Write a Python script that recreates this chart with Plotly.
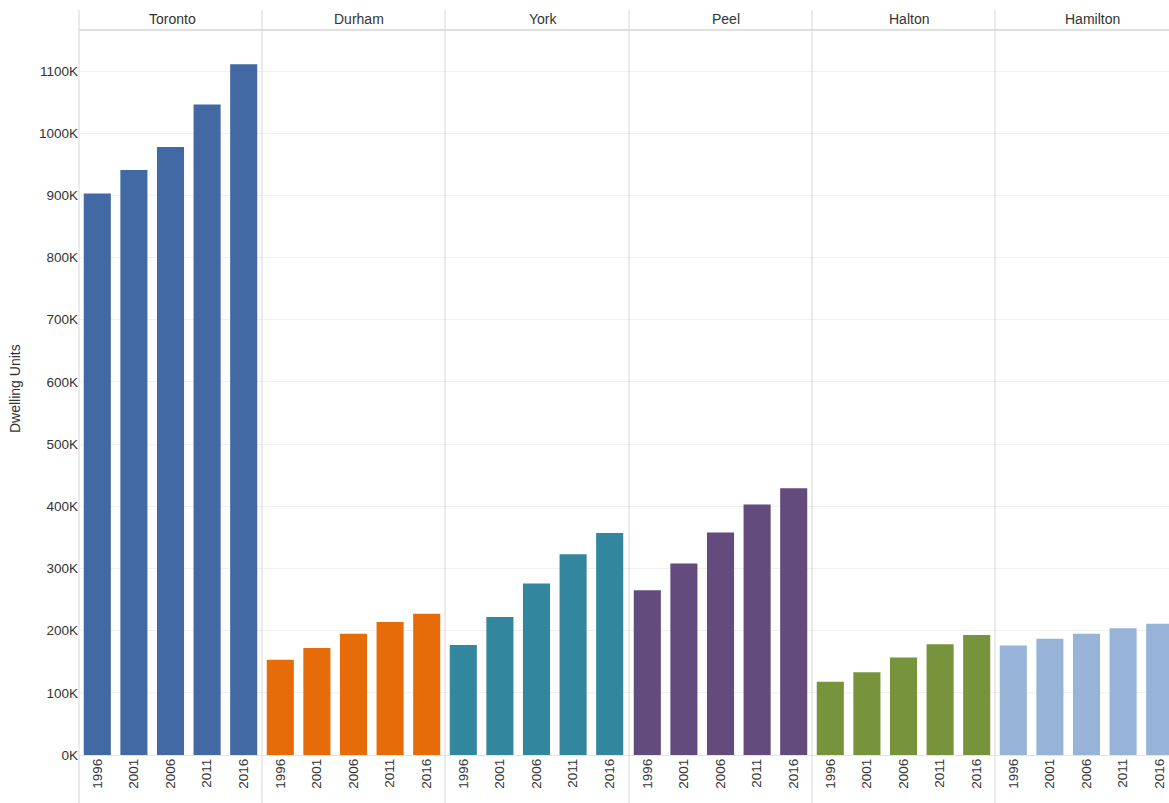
import plotly.graph_objects as go
from plotly.subplots import make_subplots

regions = ["Toronto", "Durham", "York", "Peel", "Halton", "Hamilton"]
years = ["1996", "2001", "2006", "2011", "2016"]

toronto = [903000, 941000, 978000, 1046000, 1111000]
durham = [153000, 172000, 195000, 214000, 227000]
york = [177000, 222000, 276000, 323000, 357000]
peel = [265000, 308000, 358000, 403000, 429000]
halton = [118000, 133000, 157000, 178000, 193000]
hamilton = [176000, 187000, 195000, 204000, 211000]

series = [toronto, durham, york, peel, halton, hamilton]
colors = ["#4269a4", "#e66c0a", "#32869e", "#634b7d", "#77933c", "#97b4d8"]

W, H = 1169, 803
L, T, B = 79, 30, 48
plot_w = W - L
plot_h = H - T - B
bounds_px = [79, 262, 445, 629, 812, 995, 1169]  # screen pixels
title_px = [172, 359, 543, 726, 909, 1092]       # title centres (screen pixels)
slot = 183 / 5.0
y_base = 755  # screen pixel of the x axis


def px_x(p):
    return (p - L) / plot_w


def px_y(p):
    return (y_base - p) / plot_h


FONT = "Arial, Liberation Sans, sans-serif"
TXT = "#333333"

fig = make_subplots(rows=1, cols=6, shared_yaxes=True, horizontal_spacing=0)

for i, (name, vals) in enumerate(zip(regions, series)):
    fig.add_trace(
        go.Bar(x=years, y=vals, name=name, marker=dict(color=colors[i], line=dict(width=0)),
               showlegend=False),
        row=1, col=i + 1,
    )

shapes = []
annotations = []
for i in range(6):
    x0 = px_x(bounds_px[i])
    x1 = min(px_x(bounds_px[i + 1]), 1.0)
    axname = "xaxis" if i == 0 else f"xaxis{i + 1}"
    width_px = (x1 - x0) * plot_w
    rng = [-0.5, -0.5 + width_px / slot]
    fig.layout[axname].update(
        domain=[x0, x1], range=rng, type="category", tickangle=-90,
        showgrid=False, zeroline=False, showline=False, ticks="",
        tickfont=dict(family=FONT, size=13.5, color=TXT), fixedrange=True,
    )
    shapes.append(dict(type="line", xref="paper", yref="paper", x0=x0, x1=x0,
                       y0=px_y(10), y1=px_y(803),
                       line=dict(color="#d6d6d6", width=1)))
    annotations.append(dict(text=regions[i], xref="paper", yref="paper",
                            x=px_x(title_px[i]), y=px_y(19),
                            showarrow=False, xanchor="center", yanchor="middle",
                            font=dict(family=FONT, size=14, color=TXT)))

# header separator line
shapes.append(dict(type="line", xref="paper", yref="paper", x0=0, x1=1, y0=1, y1=1,
                   line=dict(color="#d6d6d6", width=1.5)))

annotations.append(dict(text="Dwelling Units", xref="paper", yref="paper",
                        x=px_x(15), y=px_y(389), textangle=-90,
                        showarrow=False, xanchor="center", yanchor="middle",
                        font=dict(family=FONT, size=14, color=TXT)))

tickvals = list(range(0, 1100001, 100000))
ticktext = [f"{v // 1000}K" for v in tickvals]
fig.update_yaxes(
    range=[0, 1166000], tickvals=tickvals, ticktext=ticktext,
    showgrid=True, gridcolor="#f0f0f0", gridwidth=1,
    zeroline=True, zerolinecolor="#e4e4e4", zerolinewidth=1,
    showline=False, ticks="", fixedrange=True,
    tickfont=dict(family=FONT, size=13.5, color=TXT),
)

fig.update_layout(
    width=W, height=H,
    margin=dict(l=L, r=0, t=T, b=B, pad=0),
    paper_bgcolor="white", plot_bgcolor="white",
    bargap=0.26,
    shapes=shapes, annotations=annotations,
    showlegend=False,
)

fig.write_html(
    "out.html",
    config={"displayModeBar": False},
    post_script="document.body.style.margin='0';document.body.style.overflow='hidden';",
)
